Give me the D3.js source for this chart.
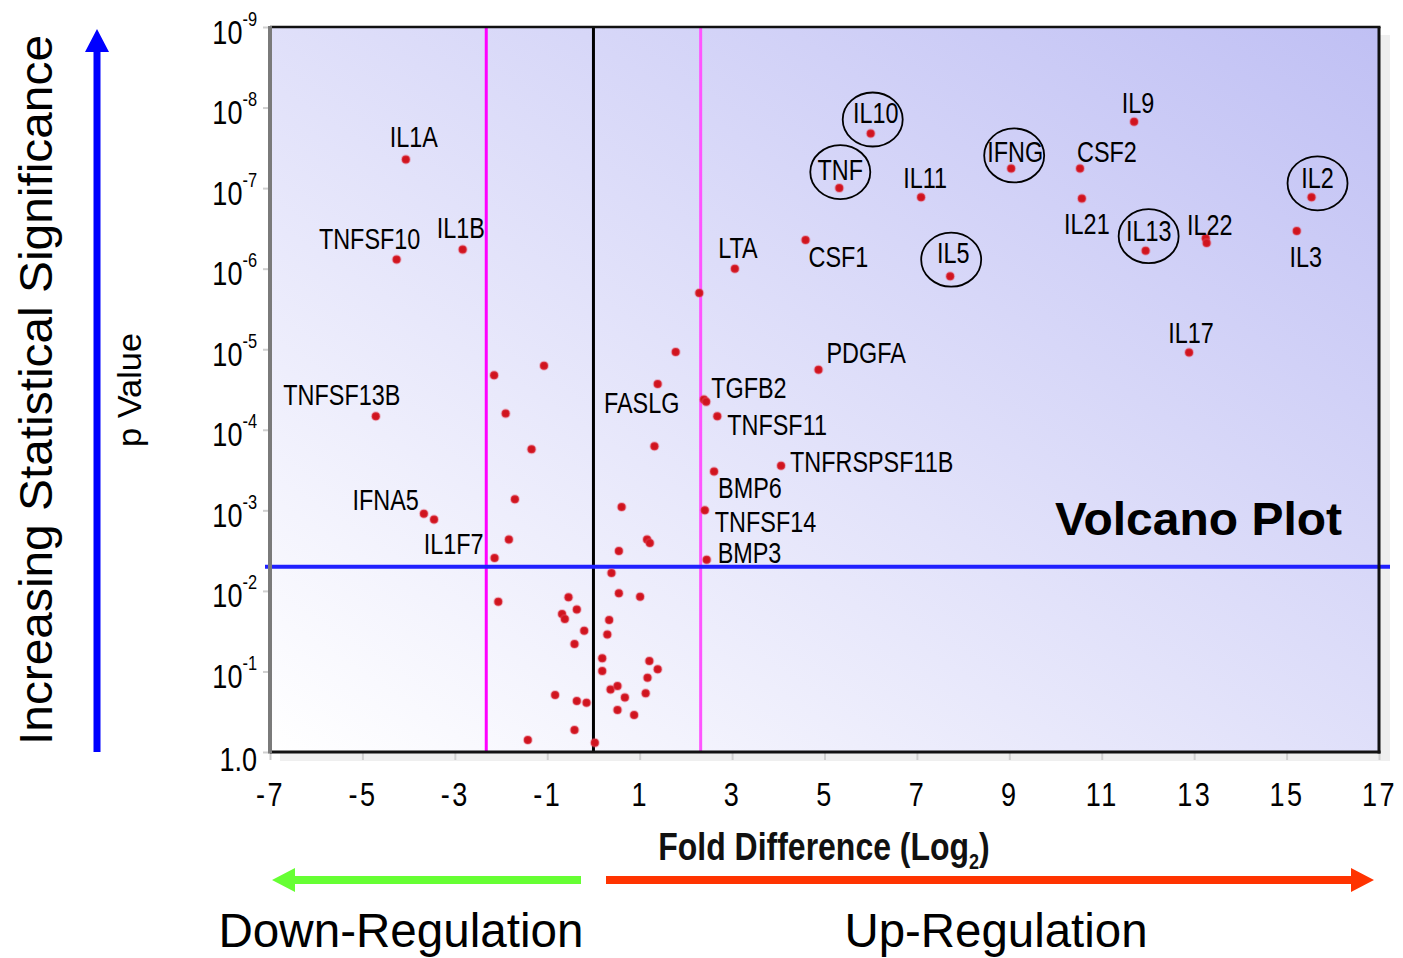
<!DOCTYPE html>
<html>
<head>
<meta charset="utf-8">
<script src="https://cdn.jsdelivr.net/npm/d3@7"></script>
<style>
  body { margin: 0; background: #ffffff; }
  svg { display: block; }
  .sans { font-family: 'Liberation Sans', Arial, Helvetica, sans-serif; }
</style>
</head>
<body>
<svg id="chart" width="1403" height="958"></svg>
<script>
// ---- data -------------------------------------------------------------
// labelled genes: log2 fold difference and p value
const labeledGenes = ["IL1A", "IL1B", "TNFSF10", "TNFSF13B", "IFNA5", "IL1F7", "FASLG", "LTA",
  "TGFB2", "TNFSF11", "BMP6", "TNFSF14", "BMP3", "TNFRSPSF11B", "CSF1", "PDGFA", "TNF", "IL10",
  "IL11", "IL5", "IFNG", "CSF2", "IL21", "IL9", "IL13", "IL17", "IL22", "IL3", "IL2"];
const labeledFold = [-4.06, -2.83, -4.26, -4.71, -3.67, -2.14, 1.39, 3.06,
  2.44, 2.68, 2.61, 2.41, 2.45, 4.06, 4.59, 4.87, 5.32, 6.00,
  7.09, 7.72, 9.04, 10.53, 10.57, 11.70, 11.95, 12.89, 13.27, 15.22, 15.54];
const labeledP = [4.4e-8, 5.8e-7, 7.7e-7, 6.8e-5, 1.1e-3, 3.9e-3, 2.7e-5, 1.0e-6,
  4.5e-5, 6.8e-5, 3.3e-4, 1.0e-3, 4.1e-3, 2.8e-4, 4.4e-7, 1.8e-5, 1.0e-7, 2.1e-8,
  1.3e-7, 1.24e-6, 5.7e-8, 5.7e-8, 1.35e-7, 1.5e-8, 6.0e-7, 1.1e-5, 4.8e-7, 3.4e-7, 1.3e-7];

// genes highlighted with a ring
const circledGenes = ["IL10", "TNF", "IL5", "IFNG", "IL13", "IL2"];

// remaining (unlabelled) genes
const otherFold = [-3.45, -2.15, -1.07, -1.90, -1.34, -1.70, -1.83, 2.29, 1.78, 1.32,
  0.61, 1.16, 1.22, 0.55, 0.39, -2.06, -0.54, -0.36, -0.68, -0.62,
  0.55, 1.01, 0.34, 0.30, -0.20, -0.41, 0.19, 0.19, 1.21, 1.39,
  1.17, 0.37, 0.52, 0.68, 1.13, 0.52, 0.88, -0.83, -0.36, -0.15,
  -0.41, -1.42, 0.03, 2.39, 13.25];
const otherP = [1.3e-3, 2.1e-5, 1.6e-5, 6.3e-5, 1.75e-4, 7.3e-4, 2.3e-3, 2.0e-6, 1.08e-5, 1.6e-4,
  9.1e-4, 2.3e-3, 2.55e-3, 3.2e-3, 6.0e-3, 0.0136, 0.012, 0.017, 0.0194, 0.0224,
  0.0107, 0.0118, 0.023, 0.0347, 0.0313, 0.0457, 0.0688, 0.099, 0.0743, 0.094,
  0.12, 0.167, 0.152, 0.21, 0.187, 0.30, 0.347, 0.196, 0.233, 0.245,
  0.533, 0.71, 0.77, 4.2e-5, 4.2e-7];

// axis ticks
const xTicks = [-7, -5, -3, -1, 1, 3, 5, 7, 9, 11, 13, 15, 17];
const yTicks = [1, 1e-1, 1e-2, 1e-3, 1e-4, 1e-5, 1e-6, 1e-7, 1e-8, 1e-9];
const yTickExponents = ["", "-1", "-2", "-3", "-4", "-5", "-6", "-7", "-8", "-9"];

// cut-offs: 5-fold change either way, p = 0.005
const foldCutoffs = [-2.32, 2.32];
const pCutoff = 0.005;

// ---- label layout (text-anchor, dx, dy from the point) ---------------
const labelLayout = {
  IL1A: ["middle", 8, -12], IL1B: ["middle", -2, -12], TNFSF10: ["middle", -27, -11],
  TNFSF13B: ["middle", -34, -11], IFNA5: ["end", -5, -4], IL1F7: ["end", -11, -4],
  FASLG: ["middle", -16, 29], LTA: ["middle", 3, -11], TGFB2: ["start", 5, -4],
  TNFSF11: ["start", 10, 19], BMP6: ["start", 4, 26], TNFSF14: ["start", 10, 22],
  BMP3: ["start", 11, 3], TNFRSPSF11B: ["start", 9, 6], CSF1: ["start", 3, 27],
  PDGFA: ["start", 8, -7], TNF: ["middle", 1, -8], IL10: ["middle", 5, -11],
  IL11: ["middle", 4, -9], IL5: ["middle", 3, -13], IFNG: ["middle", 4, -6],
  CSF2: ["start", -3, -6], IL21: ["middle", 5, 35], IL9: ["middle", 4, -9],
  IL13: ["middle", 3, -10], IL17: ["middle", 2, -10], IL22: ["middle", 3, -8],
  IL3: ["middle", 9, 36], IL2: ["middle", 6, -9]
};
const ringLayout = {
  IL10: [2, -14], TNF: [1, -16], IL5: [1, -16.5], IFNG: [3, -13], IL13: [3, -14.6], IL2: [6, -14]
};

// horizontal squeeze giving the narrow lettering of the axes and gene names
const NARROW = 0.82;
const LABEL_NARROW = 0.78;

// ---- scales ------------------------------------------------------------
const svg = d3.select("#chart");
const plot = { left: 270, right: 1379, top: 27, bottom: 752 };
const x = d3.scaleLinear().domain([-7, 17]).range([plot.left, plot.right]);
const y = d3.scaleLog().domain([1, 1e-9]).range([plot.bottom, plot.top]);

// ---- background panel --------------------------------------------------
const defs = svg.append("defs");
const grad = defs.append("linearGradient").attr("id", "panelFill")
  .attr("x1", 0).attr("y1", 1).attr("x2", 1).attr("y2", 0);
grad.append("stop").attr("offset", 0).attr("stop-color", "#ffffff");
grad.append("stop").attr("offset", 1).attr("stop-color", "#c0c0f4");

// drop shadow
svg.append("rect")
  .attr("x", plot.left + 10).attr("y", plot.top + 8)
  .attr("width", plot.right - plot.left + 1).attr("height", plot.bottom - plot.top + 1)
  .attr("fill", "#efefef");

svg.append("rect")
  .attr("x", plot.left).attr("y", plot.top)
  .attr("width", plot.right - plot.left).attr("height", plot.bottom - plot.top)
  .attr("fill", "url(#panelFill)");

// ---- axes --------------------------------------------------------------
const yAxis = svg.append("g").attr("class", "sans")
  .attr("transform", `translate(${plot.left},0)`)
  .call(d3.axisLeft(y).tickValues(yTicks).tickSize(7).tickPadding(6).tickFormat(""));
yAxis.select(".domain").remove();
yAxis.selectAll(".tick line").attr("stroke", "#cfcfcf").attr("stroke-width", 2);
yAxis.selectAll(".tick text").each(function (d, i) {
  const t = d3.select(this)
    .attr("x", -13 / NARROW).attr("dy", null).attr("y", 16)
    .attr("transform", `scale(${NARROW},1)`)
    .attr("font-size", 33).attr("fill", "#000");
  t.text(null);
  if (yTickExponents[i] === "") {
    t.attr("y", 18).text("1.0");
  } else {
    t.append("tspan").text("10");
    t.append("tspan").attr("dy", -18).attr("font-size", 20).text(yTickExponents[i]);
  }
});

const xAxis = svg.append("g").attr("class", "sans")
  .attr("transform", `translate(0,${plot.bottom})`)
  .call(d3.axisBottom(x).tickValues(xTicks).tickSize(8).tickFormat(d3.format("d")));
xAxis.select(".domain").remove();
xAxis.selectAll(".tick line").attr("stroke", "#cfcfcf").attr("stroke-width", 2);
xAxis.selectAll(".tick text").attr("y", 54).attr("dy", null)
  .attr("transform", `scale(${NARROW},1)`)
  .attr("font-size", 33).attr("fill", "#000").attr("letter-spacing", 3)
  .text(d => String(d));

// ---- reference lines ---------------------------------------------------
svg.append("line")
  .attr("x1", x(0)).attr("x2", x(0)).attr("y1", plot.top).attr("y2", plot.bottom)
  .attr("stroke", "#000").attr("stroke-width", 3);

svg.selectAll(".fold-cut").data(foldCutoffs).join("line").attr("class", "fold-cut")
  .attr("x1", d => x(d)).attr("x2", d => x(d)).attr("y1", plot.top).attr("y2", plot.bottom)
  .attr("stroke", (d, i) => i === 0 ? "#ff00ff" : "#ff55ff").attr("stroke-width", 3);

svg.append("line")
  .attr("x1", plot.left - 5).attr("x2", plot.right + 11).attr("y1", y(pCutoff)).attr("y2", y(pCutoff))
  .attr("stroke", "#2020ff").attr("stroke-width", 4);

// ---- frame -------------------------------------------------------------
const frame = svg.append("g");
frame.append("line").attr("x1", plot.left).attr("x2", plot.right + 1.5)
  .attr("y1", plot.top).attr("y2", plot.top).attr("stroke", "#111").attr("stroke-width", 2.5);
frame.append("line").attr("x1", plot.right).attr("x2", plot.right)
  .attr("y1", plot.top).attr("y2", plot.bottom + 1.5).attr("stroke", "#111").attr("stroke-width", 3);
frame.append("line").attr("x1", plot.left).attr("x2", plot.right + 1.5)
  .attr("y1", plot.bottom).attr("y2", plot.bottom).attr("stroke", "#111").attr("stroke-width", 3);
frame.append("line").attr("x1", plot.left).attr("x2", plot.left)
  .attr("y1", plot.top - 1).attr("y2", plot.bottom + 1.5).attr("stroke", "#7a7a7a").attr("stroke-width", 4);

// ---- points ------------------------------------------------------------
const others = otherFold.map((f, i) => ({ fold: f, p: otherP[i] }));
const labeled = labeledGenes.map((g, i) => ({ gene: g, fold: labeledFold[i], p: labeledP[i] }));

const drawPoints = (sel) => sel
  .attr("cx", d => x(d.fold)).attr("cy", d => y(d.p))
  .attr("r", 4).attr("fill", "#d0141e")
  .attr("stroke", "rgba(230,80,100,0.35)").attr("stroke-width", 2);

svg.append("g").selectAll("circle").data(others).join("circle").call(drawPoints);
svg.append("g").selectAll("circle").data(labeled).join("circle").call(drawPoints);

// gene names
svg.append("g").attr("class", "sans").selectAll("text").data(labeled).join("text")
  .attr("transform", d => `translate(${x(d.fold) + labelLayout[d.gene][1]},${y(d.p) + labelLayout[d.gene][2]}) scale(${LABEL_NARROW},1)`)
  .attr("text-anchor", d => labelLayout[d.gene][0])
  .attr("font-size", 30).attr("fill", "#000")
  .text(d => d.gene);

// rings round key cytokines
svg.append("g").selectAll("ellipse")
  .data(labeled.filter(d => circledGenes.includes(d.gene))).join("ellipse")
  .attr("cx", d => x(d.fold) + ringLayout[d.gene][0])
  .attr("cy", d => y(d.p) + ringLayout[d.gene][1])
  .attr("rx", 30).attr("ry", 27)
  .attr("fill", "none").attr("stroke", "#000").attr("stroke-width", 1.8);

// ---- titles --------------------------------------------------------------
svg.append("text").attr("class", "sans")
  .attr("x", 1055).attr("y", 535).attr("font-size", 47).attr("font-weight", "bold")
  .attr("textLength", 287).attr("lengthAdjust", "spacingAndGlyphs")
  .text("Volcano Plot");

const xTitle = svg.append("text").attr("class", "sans")
  .attr("transform", `translate(824,860) scale(${NARROW},1)`)
  .attr("text-anchor", "middle")
  .attr("font-size", 39).attr("font-weight", "bold").attr("fill", "#111");
xTitle.append("tspan").text("Fold Difference (Log");
xTitle.append("tspan").attr("font-size", 22).attr("dy", 9).text("2");
xTitle.append("tspan").attr("dy", -9).text(")");

svg.append("text").attr("class", "sans")
  .attr("transform", `translate(141,390) rotate(-90)`)
  .attr("text-anchor", "middle").attr("font-size", 33)
  .attr("textLength", 114).attr("lengthAdjust", "spacingAndGlyphs")
  .text("p Value");

svg.append("text").attr("class", "sans")
  .attr("transform", "translate(52,390) rotate(-90)")
  .attr("text-anchor", "middle").attr("font-size", 46)
  .attr("textLength", 710).attr("lengthAdjust", "spacingAndGlyphs")
  .text("Increasing Statistical Significance");

svg.append("text").attr("class", "sans")
  .attr("x", 401).attr("y", 947).attr("text-anchor", "middle").attr("font-size", 48)
  .attr("textLength", 365).attr("lengthAdjust", "spacingAndGlyphs")
  .text("Down-Regulation");

svg.append("text").attr("class", "sans")
  .attr("x", 996).attr("y", 947).attr("text-anchor", "middle").attr("font-size", 48)
  .attr("textLength", 303).attr("lengthAdjust", "spacingAndGlyphs")
  .text("Up-Regulation");

// ---- direction arrows -------------------------------------------------------
// significance (vertical, blue)
svg.append("path")
  .attr("d", "M93.5,752 L93.5,52 L85,52 L97,29 L109,52 L100.5,52 L100.5,752 Z")
  .attr("fill", "#0000ff");
// down-regulation (left, green)
svg.append("path")
  .attr("d", "M581,876 L295,876 L295,868 L272,880 L295,892 L295,884 L581,884 Z")
  .attr("fill", "#66ff33");
// up-regulation (right, red)
svg.append("path")
  .attr("d", "M606,876 L1351,876 L1351,868 L1374,880 L1351,892 L1351,884 L606,884 Z")
  .attr("fill", "#ff3300");
</script>
</body>
</html>
